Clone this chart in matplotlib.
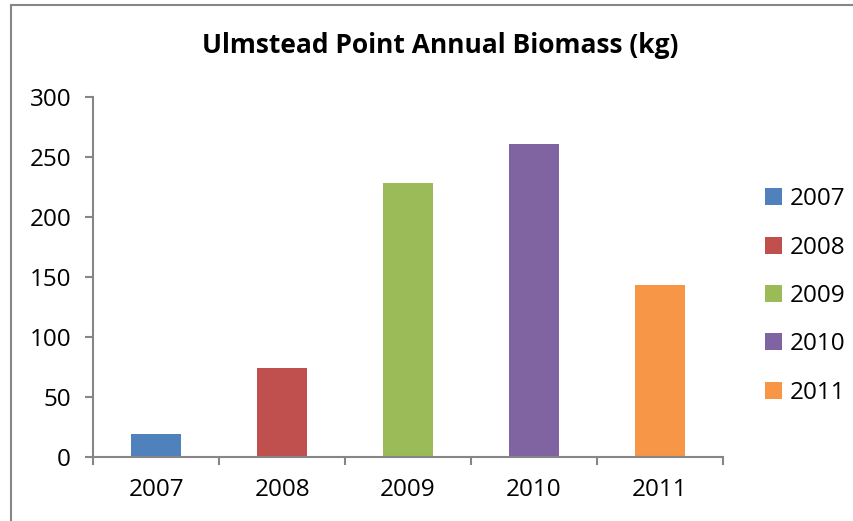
import matplotlib
matplotlib.use('Agg')
import matplotlib.pyplot as plt
from matplotlib.patches import Rectangle

plt.rcParams['font.family'] = ['Open Sans', 'DejaVu Sans']

years = ['2007', '2008', '2009', '2010', '2011']
biomass = [19, 74, 228, 261, 143.5]
colors = ['#4F81BD', '#C0504D', '#9BBB59', '#8064A2', '#F79646']
yticks = [0, 50, 100, 150, 200, 250, 300]

axis_grey = '#868686'

fig = plt.figure(figsize=(8.54, 5.21), dpi=100)
ax = fig.add_axes([0.1093, 0.1223, 0.737, 0.6915])

x = range(len(years))
for i, (yr, val, c) in enumerate(zip(years, biomass, colors)):
    ax.bar(i, val, width=0.4, color=c, label=yr, zorder=2)

ax.set_xlim(-0.5, len(years) - 0.5)
ax.set_ylim(0, 300)
ax.set_yticks(yticks)
ax.set_yticklabels([str(t) for t in yticks], fontsize=17.5)

# category labels centred, tick marks between categories
ax.set_xticks(list(x))
ax.set_xticklabels(years, fontsize=17.5)
ax.tick_params(axis='x', length=0, pad=15)
ax.set_xticks([i - 0.5 for i in range(len(years) + 1)], minor=True)
ax.tick_params(axis='x', which='minor', length=6, width=1.5, color=axis_grey, direction='out')
ax.tick_params(axis='y', length=6, width=1.5, color=axis_grey, pad=10)

for side in ['top', 'right']:
    ax.spines[side].set_visible(False)
for side in ['left', 'bottom']:
    ax.spines[side].set_color(axis_grey)
    ax.spines[side].set_linewidth(1.5)

fig.text(0.515, 0.912, 'Ulmstead Point Annual Biomass (kg)', ha='center', va='center',
         fontsize=19, fontweight='bold')

leg = ax.legend(loc='center left', bbox_to_anchor=(0.896, 0.432), bbox_transform=fig.transFigure,
                frameon=False, fontsize=17.5, handlelength=0.7, handleheight=0.7,
                handletextpad=0.3, labelspacing=1.0, borderaxespad=0, borderpad=0)

# chart area outline
fig.patches.append(Rectangle((11 / 854, -0.05), 1.2, 1 - 5 / 521 + 0.05,
                             transform=fig.transFigure, fill=False,
                             edgecolor=axis_grey, linewidth=1.5))

fig.savefig('out.png', dpi=100)
